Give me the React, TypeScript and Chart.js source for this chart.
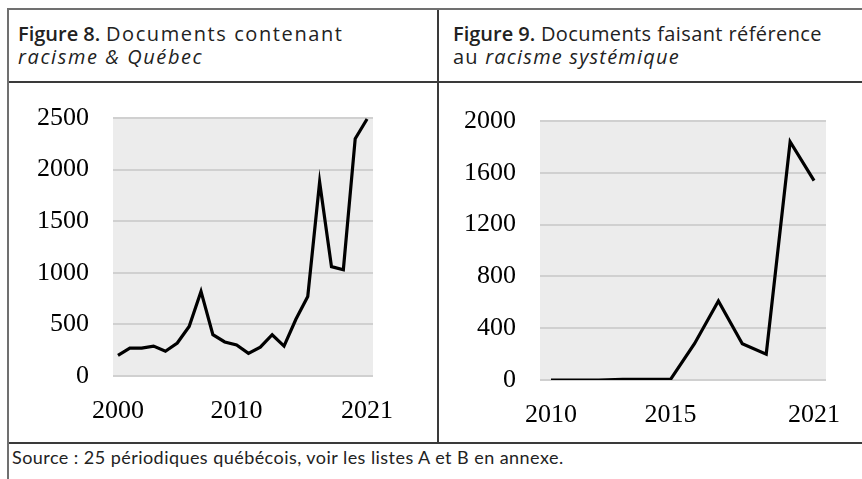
import React, { useEffect, useRef } from "react";
import { Chart, registerables } from "chart.js";

Chart.register(...registerables);

// Figure 8 data
const years8 = [2000, 2001, 2002, 2003, 2004, 2005, 2006, 2007, 2008, 2009, 2010, 2011, 2012, 2013, 2014, 2015, 2016, 2017, 2018, 2019, 2020, 2021];
const values8 = [200, 270, 270, 290, 240, 320, 480, 820, 400, 330, 300, 220, 280, 400, 290, 550, 770, 1880, 1060, 1030, 2300, 2490];
const xTicks8 = [2000, 2010, 2021];
const yTicks8 = [0, 500, 1000, 1500, 2000, 2500];

// Figure 9 data
const years9 = [2010, 2011, 2012, 2013, 2014, 2015, 2016, 2017, 2018, 2019, 2020, 2021];
const values9 = [0, 0, 0, 5, 5, 5, 280, 610, 280, 200, 1840, 1540];
const xTicks9 = [2010, 2015, 2021];
const yTicks9 = [0, 400, 800, 1200, 1600, 2000];

const plotBg = {
  id: "plotBg",
  beforeDraw(chart: any) {
    const { ctx, chartArea } = chart;
    if (!chartArea) return;
    ctx.save();
    ctx.fillStyle = "#ececec";
    ctx.fillRect(chartArea.left, chartArea.top - 1, chartArea.right - chartArea.left, chartArea.bottom - chartArea.top + 2);
    ctx.restore();
  },
};

type LineProps = {
  years: number[];
  values: number[];
  xTicks: number[];
  yTicks: number[];
  xMin: number;
  xMax: number;
  left: number;
  top: number;
  width: number;
  height: number;
  yWidth: number;
  xHeight: number;
  padTop: number;
  padRight: number;
};

function LineChart(p: LineProps) {
  const ref = useRef<HTMLCanvasElement | null>(null);
  useEffect(() => {
    if (!ref.current) return;
    const font = { family: "'Liberation Serif', 'Times New Roman', serif", size: 26 };
    const chart = new Chart(ref.current, {
      type: "line",
      data: {
        datasets: [
          {
            data: p.years.map((y, i) => ({ x: y, y: p.values[i] })),
            borderColor: "#000000",
            borderWidth: 3.2,
            pointRadius: 0,
            tension: 0,
            fill: false,
          },
        ],
      },
      options: {
        animation: false,
        responsive: false,
        maintainAspectRatio: false,
        layout: { padding: { left: 0, right: p.padRight, top: p.padTop, bottom: 0 } },
        plugins: { legend: { display: false }, tooltip: { enabled: false } },
        scales: {
          x: {
            type: "linear",
            min: p.xMin,
            max: p.xMax,
            afterBuildTicks: (s: any) => {
              s.ticks = p.xTicks.map((v) => ({ value: v }));
            },
            afterFit: (s: any) => {
              s.height = p.xHeight;
              s.paddingLeft = 0;
              s.paddingRight = 0;
            },
            grid: { display: false, drawTicks: false },
            border: { display: false },
            ticks: {
              font,
              color: "#000",
              padding: 20,
              maxRotation: 0,
              autoSkip: false,
              callback: (v: any) => String(v),
            },
          },
          y: {
            min: p.yTicks[0],
            max: p.yTicks[p.yTicks.length - 1],
            afterBuildTicks: (s: any) => {
              s.ticks = p.yTicks.map((v) => ({ value: v }));
            },
            afterFit: (s: any) => {
              s.width = p.yWidth;
              s.paddingTop = 0;
              s.paddingBottom = 0;
            },
            grid: { color: "#d0d0d0", lineWidth: 2, drawTicks: false },
            border: { display: false },
            ticks: {
              font,
              color: "#000",
              padding: 24,
              callback: (v: any) => String(v),
            },
          },
        },
      },
      plugins: [plotBg],
    } as any);
    return () => chart.destroy();
  }, []);
  return (
    <canvas
      ref={ref}
      width={p.width}
      height={p.height}
      style={{ position: "absolute", left: p.left, top: p.top, width: p.width, height: p.height }}
    />
  );
}

const sans = "'Open Sans', Lato, 'Noto Sans', sans-serif";

export default function App() {
  const line = (l: number, t: number, w: number, h: number, c: string) => (
    <div style={{ position: "absolute", left: l, top: t, width: w, height: h, background: c }} />
  );
  return (
    <div style={{ position: "fixed", left: 0, top: 0, width: 862, height: 479, background: "#fff", overflow: "hidden" }}>
      {line(7, 8, 855, 2, "#707070")}
      {line(7, 8, 2, 471, "#707070")}
      {line(9, 81, 853, 2, "#3a3a3a")}
      {line(437, 10, 2, 433, "#3a3a3a")}
      {line(9, 442, 853, 2, "#3a3a3a")}
      <div style={{ position: "absolute", left: 18, top: 22, fontFamily: sans, fontSize: 20, lineHeight: "23px", letterSpacing: 0.4, color: "#222", whiteSpace: "nowrap" }}>
        <div>
          <span style={{ fontWeight: 600, letterSpacing: 0 }}>Figure 8.</span> <span style={{ letterSpacing: 1.6 }}>Documents contenant</span>
        </div>
        <div style={{ letterSpacing: 1.6 }}>
          <i>racisme &amp; Québec</i>
        </div>
      </div>
      <div style={{ position: "absolute", left: 453, top: 22, fontFamily: sans, fontSize: 20, lineHeight: "23px", letterSpacing: 0.4, color: "#222", whiteSpace: "nowrap" }}>
        <div>
          <span style={{ fontWeight: 600, letterSpacing: 0 }}>Figure 9.</span> Documents faisant référence
        </div>
        <div style={{ letterSpacing: 1.2 }}>
          au <i>racisme systémique</i>
        </div>
      </div>
      <div style={{ position: "absolute", left: 12, top: 446, fontFamily: "Lato, sans-serif", fontSize: 18, lineHeight: "22px", letterSpacing: 0.45, color: "#222", whiteSpace: "nowrap" }}>
        Source : 25 périodiques québécois, voir les listes A et B en annexe.
      </div>
      <LineChart
        years={years8}
        values={values8}
        xTicks={xTicks8}
        yTicks={yTicks8}
        xMin={1999.58}
        xMax={2021.5}
        left={9}
        top={84}
        width={428}
        height={357}
        yWidth={104}
        xHeight={65}
        padTop={34}
        padRight={64}
      />
      <LineChart
        years={years9}
        values={values9}
        xTicks={xTicks9}
        yTicks={yTicks9}
        xMin={2009.54}
        xMax={2021.5}
        left={439}
        top={84}
        width={423}
        height={357}
        yWidth={101}
        xHeight={61}
        padTop={37}
        padRight={36}
      />
    </div>
  );
}
